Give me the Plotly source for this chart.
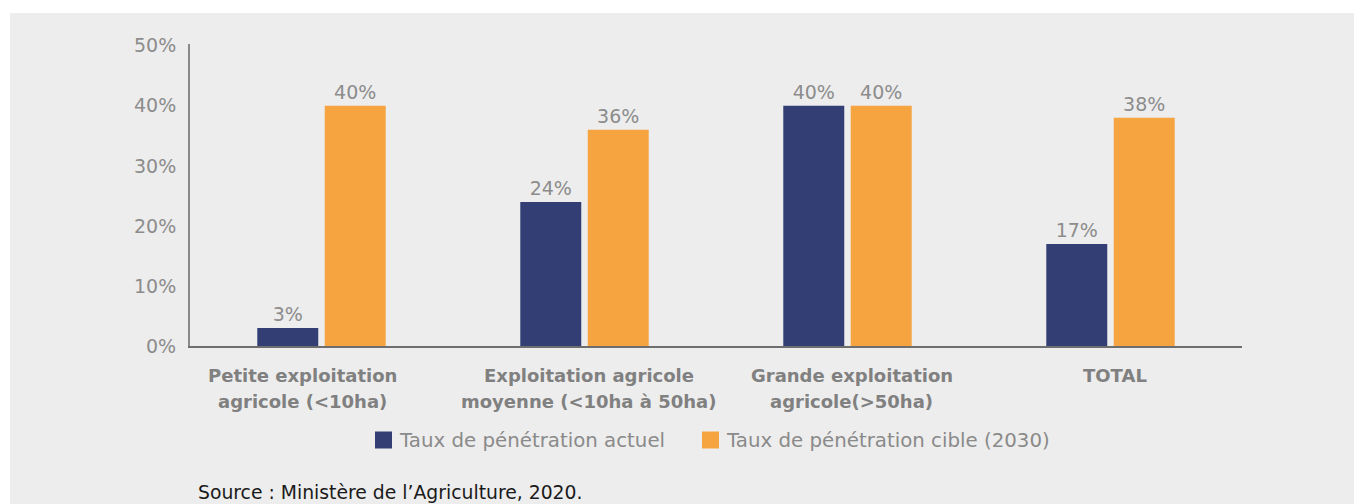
import plotly.graph_objects as go

# --- data -------------------------------------------------------------------
categories = [
    "Petite exploitation<br>agricole (<10ha)",
    "Exploitation agricole<br>moyenne (<10ha à 50ha)",
    "Grande exploitation<br>agricole(>50ha)",
    "TOTAL",
]
taux_actuel = [3, 24, 40, 17]
taux_cible = [40, 36, 40, 38]
series_names = ["Taux de pénétration actuel", "Taux de pénétration cible (2030)"]
y_ticks = [0, 10, 20, 30, 40, 50]
y_tick_text = ["0%", "10%", "20%", "30%", "40%", "50%"]
source_text = "Source : Ministère de l’Agriculture, 2020."

# --- layout geometry (pixels) -----------------------------------------------
W, H = 1354, 504
ML, MR, MT, MB = 190, 112, 44, 158
PW, PH = W - ML - MR, H - MT - MB


def px_x(px):
    return (px - ML) / PW


def px_y(py):
    return (H - MB - py) / PH


NAVY = "#333F74"
ORANGE = "#F6A440"
BG = "#EDEDED"
GREY_TXT = "#8C8C8C"
FONT = "DejaVu Sans, Verdana, sans-serif"

# horizontal nudges of the category captions, caption line centres (px)
caption_shift = [-19, 4, 4, 4]
caption_rows = [375, 401]
# legend: swatch left edges and text left edges (px), row centre
legend_swatch_x = [375, 702]
legend_text_x = [397, 724]
legend_row = 440
swatch = 17

colors = [NAVY, ORANGE]

fig = go.Figure()
for name, vals, col in zip(series_names, [taux_actuel, taux_cible], colors):
    fig.add_trace(go.Bar(
        x=categories, y=vals, name=name, marker_color=col,
        marker_line_width=0,
        texttemplate="%{y:d}%", textposition="outside",
        textfont=dict(family=FONT, size=19, color=GREY_TXT),
        cliponaxis=False, showlegend=False,
    ))

annotations = []
shapes = [dict(
    type="rect", xref="paper", yref="paper", layer="below",
    x0=px_x(10), x1=px_x(W), y0=px_y(H), y1=px_y(13),
    fillcolor=BG, line_width=0,
)]

# category captions under the axis
for cat, dx in zip(categories, caption_shift):
    for line, row in zip(cat.split("<br>"), caption_rows):
        annotations.append(dict(
            x=cat, xref="x", y=px_y(row), yref="paper",
            yanchor="middle", xanchor="center", xshift=dx,
            text=line, showarrow=False,
            font=dict(family=FONT, size=18, color="#808080", weight="bold"),
        ))

# legend row
for name, col, sx, tx in zip(series_names, colors, legend_swatch_x, legend_text_x):
    shapes.append(dict(
        type="rect", xref="paper", yref="paper",
        x0=px_x(sx), x1=px_x(sx + swatch),
        y0=px_y(legend_row + swatch / 2), y1=px_y(legend_row - swatch / 2),
        fillcolor=col, line_width=0,
    ))
    annotations.append(dict(
        x=px_x(tx), xref="paper", y=px_y(legend_row), yref="paper",
        xanchor="left", yanchor="middle", text=name, showarrow=False,
        font=dict(family=FONT, size=19.8, color="#8A8A8A"),
    ))

# source note
annotations.append(dict(
    x=px_x(196), xref="paper", y=px_y(492), yref="paper",
    xanchor="left", yanchor="middle", text=source_text, showarrow=False,
    font=dict(family=FONT, size=18.8, color="#1a1a1a"),
))

fig.update_layout(
    width=W, height=H,
    margin=dict(l=ML, r=MR, t=MT, b=MB, pad=0),
    paper_bgcolor="white", plot_bgcolor=BG,
    barmode="group", bargap=0.487, bargroupgap=0.096,
    font=dict(family=FONT, color=GREY_TXT),
    showlegend=False,
    annotations=annotations,
    shapes=shapes,
    xaxis=dict(
        showticklabels=False, showline=True, linecolor="#6E6E6E",
        linewidth=2, ticks="", showgrid=False, zeroline=False,
    ),
    yaxis=dict(
        range=[0, 50.3], tickvals=y_ticks, ticktext=y_tick_text,
        showline=True, linecolor="#8A8A8A", linewidth=2, ticks="",
        showgrid=False, zeroline=False, ticklabelstandoff=8,
        tickfont=dict(family=FONT, size=19, color=GREY_TXT),
    ),
)

fig.write_html("out.html")
